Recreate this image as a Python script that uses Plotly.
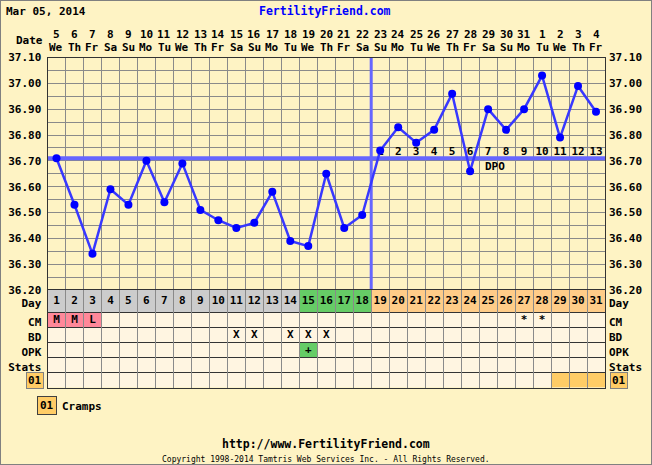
import plotly.graph_objects as go

# ---------------- data ----------------
cycle_days = list(range(1, 32))
date_numbers = ["5", "6", "7", "8", "9", "10", "11", "12", "13", "14", "15", "16", "17", "18", "19",
                "20", "21", "22", "23", "24", "25", "26", "27", "28", "29", "30", "31", "1", "2", "3", "4"]
weekdays = ["We", "Th", "Fr", "Sa", "Su", "Mo", "Tu", "We", "Th", "Fr", "Sa", "Su", "Mo", "Tu", "We",
            "Th", "Fr", "Sa", "Su", "Mo", "Tu", "We", "Th", "Fr", "Sa", "Su", "Mo", "Tu", "We", "Th", "Fr"]
temps = [36.71, 36.53, 36.34, 36.59, 36.53, 36.70, 36.54, 36.69, 36.51, 36.47,
         36.44, 36.46, 36.58, 36.39, 36.37, 36.65, 36.44, 36.49, 36.74, 36.83,
         36.77, 36.82, 36.96, 36.66, 36.90, 36.82, 36.90, 37.03, 36.79, 36.99, 36.89]
coverline = 36.71
ovulation_day = 18
fertile_days = [15, 16, 17, 18]
dpo_labels = [str(i) for i in range(1, 14)]
dpo_days = list(range(19, 32))
cm_days = [1, 2, 3, 27, 28]
cm_codes = ["M", "M", "L", "*", "*"]
cm_menses_days = [1, 2, 3]
bd_days = [11, 12, 14, 15, 16]
opk_days = [15]
opk_results = ["+"]
cramps_days = [29, 30, 31]
row_labels = ["Day", "CM", "BD", "OPK", "Stats", ""]
temp_ticks = [36.2, 36.3, 36.4, 36.5, 36.6, 36.7, 36.8, 36.9, 37.0, 37.1]

# ---------------- styling / geometry ----------------
W, H = 652, 465
BG = "#FEF3C4"
CELL_BG = "#FFF5E1"
GRID = "#8A8A8A"
DARK = "#333333"
FONT = "DejaVu Sans Mono"
X0, X1 = 47.5, 605.0
TY0, TY1 = 57.5, 290.0
TB1 = 387.5


def px(x):
    return x / W


def py(y):
    return 1 - y / H


row_centers = [0.75, 2, 3, 4, 5, 6]
row_bounds = [0, 1.5, 2.5, 3.5, 4.5, 5.5, 6.5]

fig = go.Figure()

# DPO labels
fig.add_trace(go.Scatter(x=dpo_days, y=[36.735] * len(dpo_days), mode="text", text=dpo_labels,
                         textfont=dict(family=FONT, size=11, color="black", weight="bold"),
                         hoverinfo="skip", showlegend=False, xaxis="x", yaxis="y"))
# temperature line
fig.add_trace(go.Scatter(x=cycle_days, y=temps, mode="lines+markers",
                         line=dict(color="#3838FF", width=2.5),
                         marker=dict(color="#0000FF", size=8),
                         showlegend=False, xaxis="x", yaxis="y"))

# table text
tx, ty, tt = [], [], []
for d in cycle_days:
    tx.append(d); ty.append(row_centers[0]); tt.append(str(d))
for d, c in zip(cm_days, cm_codes):
    tx.append(d); ty.append(row_centers[1]); tt.append(c)
for d in bd_days:
    tx.append(d); ty.append(row_centers[2]); tt.append("X")
for d, r in zip(opk_days, opk_results):
    tx.append(d); ty.append(row_centers[3]); tt.append(r)
fig.add_trace(go.Scatter(x=tx, y=ty, mode="text", text=tt,
                         textfont=dict(family=FONT, size=11, color="black", weight="bold"),
                         hoverinfo="skip", showlegend=False, xaxis="x2", yaxis="y2"))

shapes = []
# table background
shapes.append(dict(type="rect", xref="x2", yref="y2", x0=0.5, x1=31.5, y0=0, y1=6.5,
                   fillcolor=CELL_BG, line=dict(width=0), layer="below"))
for d in cycle_days:
    if d in fertile_days:
        col = "#66CC66"
    elif d > ovulation_day:
        col = "#FFCC88"
    else:
        col = "#CCCCCC"
    shapes.append(dict(type="rect", xref="x2", yref="y2", x0=d - 0.5, x1=d + 0.5, y0=0, y1=1.5,
                       fillcolor=col, line=dict(width=0), layer="below"))
for d in cm_menses_days:
    shapes.append(dict(type="rect", xref="x2", yref="y2", x0=d - 0.5, x1=d + 0.5, y0=1.5, y1=2.5,
                       fillcolor="#FF8899", line=dict(width=0), layer="below"))
for d in opk_days:
    shapes.append(dict(type="rect", xref="x2", yref="y2", x0=d - 0.5, x1=d + 0.5, y0=3.5, y1=4.5,
                       fillcolor="#66CC66", line=dict(width=0), layer="below"))
for d in cramps_days:
    shapes.append(dict(type="rect", xref="x2", yref="y2", x0=d - 0.5, x1=d + 0.5, y0=5.5, y1=6.5,
                       fillcolor="#FFCC66", line=dict(width=0), layer="below"))
# coverline and ovulation line
shapes.append(dict(type="line", xref="x", yref="y", x0=0.5, x1=31.5, y0=coverline, y1=coverline,
                   line=dict(color="#6666FF", width=4), layer="between"))
shapes.append(dict(type="line", xref="x", yref="y", x0=ovulation_day + 0.5, x1=ovulation_day + 0.5,
                   y0=36.2, y1=37.1, line=dict(color="#6666FF", width=3), layer="between"))
# canvas frame
shapes.append(dict(type="rect", xref="paper", yref="paper", x0=0, x1=1, y0=0, y1=1,
                   line=dict(color="#808080", width=2), fillcolor="rgba(0,0,0,0)"))

ann = []
bold = dict(family=FONT, size=11, color="black", weight="bold")
ann.append(dict(x=25.4, y=36.677, xref="x", yref="y", text="DPO", showarrow=False,
                xanchor="center", yanchor="middle", font=bold))
ann.append(dict(x=px(4), y=py(11), xref="paper", yref="paper", text="Mar 05, 2014", showarrow=False,
                xanchor="left", yanchor="middle", font=bold))
ann.append(dict(x=px(324.5), y=py(11), xref="paper", yref="paper", text="FertilityFriend.com",
                showarrow=False, xanchor="center", yanchor="middle",
                font=dict(family=FONT, size=11.5, color="#0000FF", weight="bold")))
ann.append(dict(x=px(45), y=py(40), xref="paper", yref="paper", text="Date", showarrow=False,
                xanchor="right", yanchor="middle", font=bold))
for d, n, w in zip(cycle_days, date_numbers, weekdays):
    ann.append(dict(x=d, y=py(34), xref="x", yref="paper", text=n, showarrow=False,
                    xanchor="center", yanchor="middle", font=bold))
    ann.append(dict(x=d, y=py(47), xref="x", yref="paper", text=w, showarrow=False,
                    xanchor="center", yanchor="middle", font=bold))
# "01" boxes beside the last row
ann.append(dict(x=px(44), y=row_centers[5], xref="paper", yref="y2", text="01", showarrow=False,
                xanchor="right", yanchor="middle", font=bold, bgcolor="#FFCC66",
                bordercolor="#808080", borderwidth=1, borderpad=1))
ann.append(dict(x=px(610), y=row_centers[5], xref="paper", yref="y2", text="01", showarrow=False,
                xanchor="left", yanchor="middle", font=bold, bgcolor="#FFCC66",
                bordercolor="#808080", borderwidth=1, borderpad=1))
# legend
ann.append(dict(x=px(37), y=py(405), xref="paper", yref="paper", text="01", showarrow=False,
                xanchor="left", yanchor="middle", font=bold, bgcolor="#FFCC66",
                bordercolor="#404040", borderwidth=1, borderpad=2))
ann.append(dict(x=px(60), y=py(406), xref="paper", yref="paper", text="Cramps", showarrow=False,
                xanchor="left", yanchor="middle", font=bold))
# footer
ann.append(dict(x=px(326), y=py(444), xref="paper", yref="paper", text="http://www.FertilityFriend.com",
                showarrow=False, xanchor="center", yanchor="middle",
                font=dict(family=FONT, size=11.5, color="black", weight="bold")))
ann.append(dict(x=px(326), y=py(459), xref="paper", yref="paper",
                text="Copyright 1998-2014 Tamtris Web Services Inc. - All Rights Reserved.",
                showarrow=False, xanchor="center", yanchor="middle",
                font=dict(family=FONT, size=8, color="black")))

tick_text = ["%.2f" % t for t in temp_ticks]
tickfont = dict(family=FONT, size=11, color="black", weight="bold")

fig.update_layout(
    width=W, height=H, margin=dict(l=0, r=0, t=0, b=0, autoexpand=False),
    paper_bgcolor=BG, plot_bgcolor=BG,
    showlegend=False,
    xaxis=dict(domain=[px(X0), px(X1)], range=[0.5, 31.5], anchor="y", automargin=False,
               tickmode="array", tickvals=[i + 0.5 for i in range(0, 32)], showticklabels=False,
               showgrid=True, gridcolor=GRID, gridwidth=1, zeroline=False,
               showline=True, linecolor=DARK, mirror=True, fixedrange=True),
    yaxis=dict(domain=[py(TY1), py(TY0)], range=[36.2, 37.1], anchor="x", automargin=False,
               tickmode="array", tickvals=temp_ticks, ticktext=tick_text, tickfont=tickfont,
               showgrid=True, gridcolor=GRID, gridwidth=1, zeroline=False,
               minor=dict(dtick=0.05, tick0=36.2, showgrid=True, gridcolor=GRID, gridwidth=1),
               ticks="", ticklabelstandoff=3,
               showline=True, linecolor=DARK, mirror=True),
    yaxis3=dict(overlaying="y", side="right", range=[36.2, 37.1], anchor="x", automargin=False,
                tickmode="array", tickvals=temp_ticks, ticktext=tick_text, tickfont=tickfont,
                showgrid=False, zeroline=False, ticks="", ticklabelstandoff=3),
    xaxis2=dict(domain=[px(X0), px(X1)], range=[0.5, 31.5], anchor="y2", matches="x", automargin=False,
                tickmode="array", tickvals=[i + 0.5 for i in range(0, 32)], showticklabels=False,
                showgrid=True, gridcolor=GRID, gridwidth=1, zeroline=False,
                showline=True, linecolor=DARK, mirror=True),
    yaxis2=dict(domain=[py(TB1), py(TY1)], range=[6.5, 0], anchor="x2", automargin=False,
                tickmode="array", tickvals=row_centers, ticktext=row_labels, tickfont=tickfont,
                showgrid=False, zeroline=False, ticks="", ticklabelstandoff=3, ticklabelshift=-2,
                minor=dict(tickvals=row_bounds, showgrid=True, gridcolor=DARK, gridwidth=1),
                showline=True, linecolor=DARK, mirror=True),
    yaxis4=dict(overlaying="y2", side="right", range=[6.5, 0], anchor="x2", automargin=False,
                tickmode="array", tickvals=row_centers, ticktext=row_labels, tickfont=tickfont,
                showgrid=False, zeroline=False, ticks="", ticklabelstandoff=3, ticklabelshift=-2),
)
fig.layout.shapes = shapes
fig.layout.annotations = ann
# dummy traces so the right-hand axes are drawn
fig.add_trace(go.Scatter(x=[None], y=[None], xaxis="x", yaxis="y3", showlegend=False))
fig.add_trace(go.Scatter(x=[None], y=[None], xaxis="x2", yaxis="y4", showlegend=False))

fig.write_html("out.html", config={"displayModeBar": False},
               post_script="document.body.style.margin='0';document.body.style.overflow='hidden';")
